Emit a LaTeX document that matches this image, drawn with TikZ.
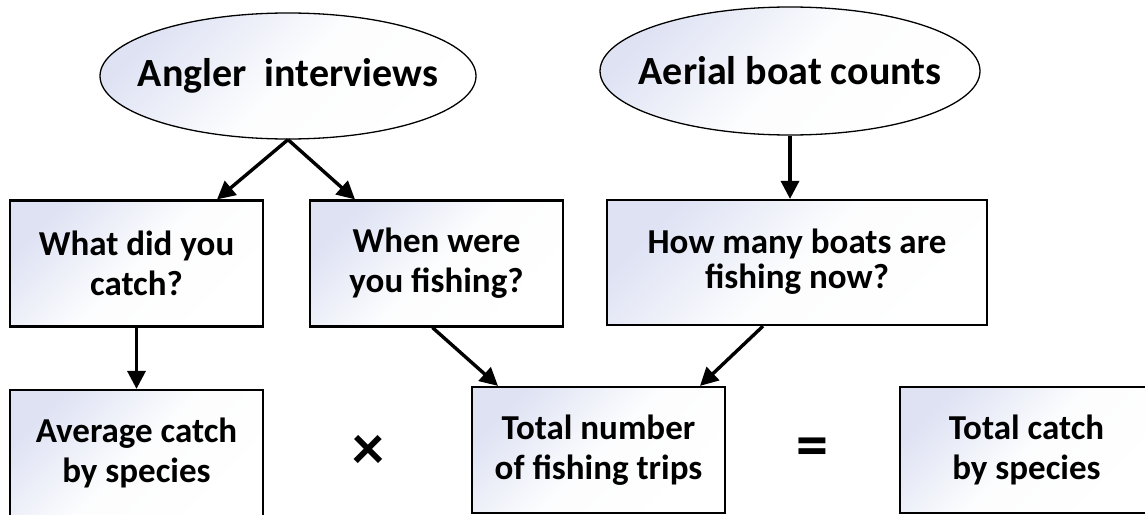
\documentclass[tikz,border=0pt]{standalone}
\usepackage{fontspec}
\setmainfont{Carlito}
\usetikzlibrary{shapes.geometric,arrows.meta}
\definecolor{lav}{RGB}{222,226,243}
\tikzset{
  grad/.style={top color=lav, bottom color=white, middle color=white!92!lav, shading angle=45},
  txt/.style={font=\bfseries\fontsize{35}{40}\selectfont, align=center, text=black},
  ovaltxt/.style={font=\bfseries\fontsize{40}{44}\selectfont, inner sep=0pt},
  oval/.style={ellipse, draw=black, line width=1.3pt, grad, inner sep=0pt},
  rbox/.style={rectangle, draw=black, line width=2.2pt, grad, txt, inner sep=0pt, minimum width=253pt, minimum height=126pt},
  arr/.style={line width=3.4pt, -{Triangle[length=18pt,width=18pt]}},
  op/.style={font=\bfseries\fontsize{64}{64}\selectfont, inner sep=0pt}
}
\begin{document}
\begin{tikzpicture}[x=1pt,y=-1pt]
\useasboundingbox (0,0) rectangle (1145,514);
\node[oval, minimum width=376pt, minimum height=126pt, label={[ovaltxt]center:Angler\ \ interviews}] (ang) at (288,76) {};
\node[oval, minimum width=380pt, minimum height=128pt, label={[ovaltxt]center:Aerial boat counts}] (aer) at (790,71) {};
\node[rbox] (what) at (136.5,263.5) {What did you\\catch?};
\node[rbox] (when) at (436.5,263.5) {When were\\you fishing?};
\node[rbox, minimum width=380pt, minimum height=125pt] (how) at (797,262.5) {\raisebox{8pt}{\begin{tabular}{@{}c@{}}How many boats are\\[-5pt]fishing now?\end{tabular}}};
\node[rbox] (avg) at (136.5,453) {Average catch\\by species};
\node[rbox] (tot) at (598.5,450) {Total number\\of fishing trips};
\node[rbox] (tc) at (1026.5,450) {Total catch\\by species};
\node[op] (times) at (368,452) {×};
\node[op] (eq) at (812,452) {=};
\draw[arr] (ang.south) -- ([xshift=80.5pt]what.north);
\draw[arr] (ang.south) -- ([xshift=-81.5pt]when.north);
\draw[arr] (aer.south) -- (aer.south |- how.north);
\draw[arr] (what.south) -- (avg.north);
\draw[arr] ([xshift=-4pt]when.south) -- ([xshift=-100.5pt]tot.north);
\draw[arr] ([xshift=-34pt]how.south) -- ([xshift=101.5pt]tot.north);
\end{tikzpicture}
\end{document}
